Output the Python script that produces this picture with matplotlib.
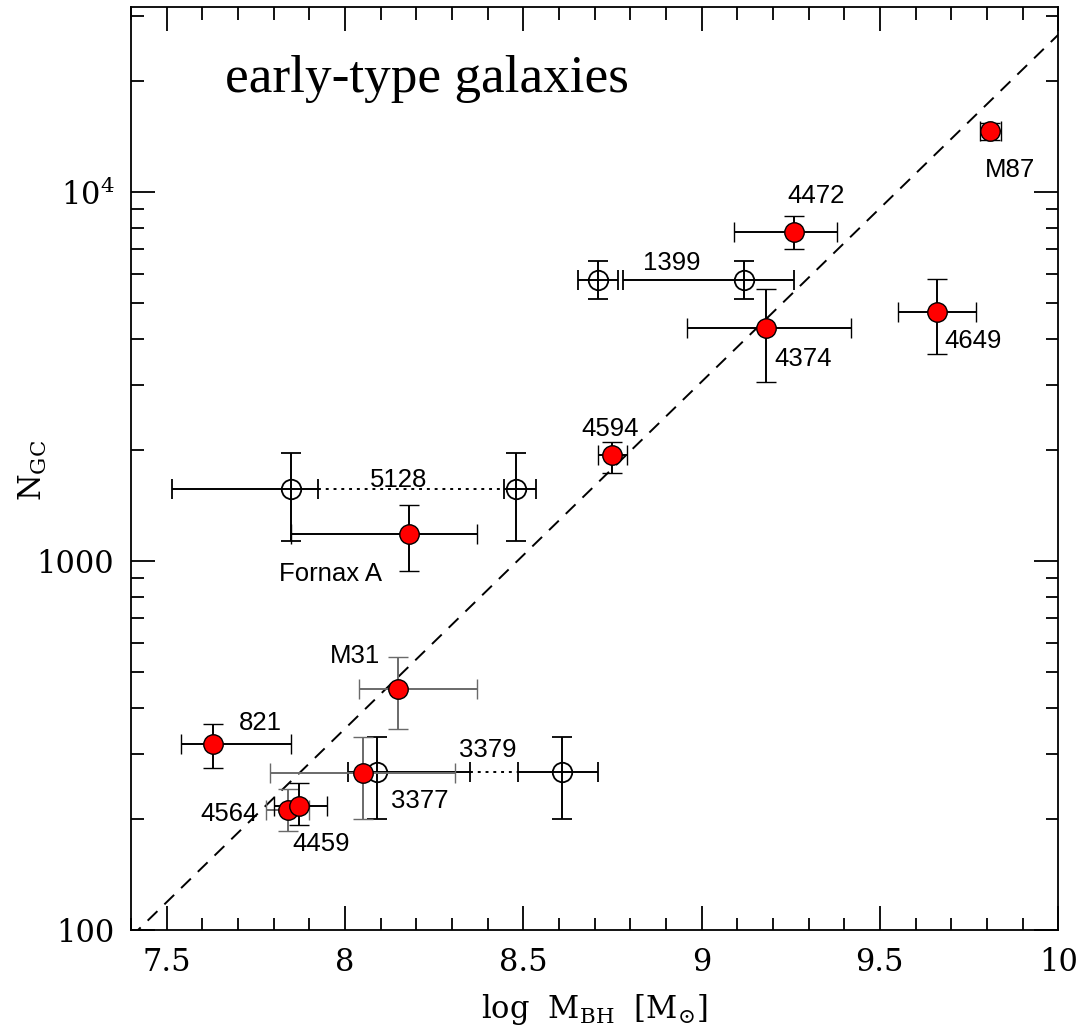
import numpy as np
import matplotlib
matplotlib.use("Agg")
import matplotlib.pyplot as plt
from matplotlib.ticker import FixedLocator, FixedFormatter, MultipleLocator

plt.rcParams['mathtext.fontset'] = 'dejavuserif'
plt.rcParams['font.family'] = 'DejaVu Serif'

# ---- filled (red) galaxies ----
names = ['M87', '4472', '4374', '4649', '4594', 'Fornax A', 'M31', '821', '3377', '4564', '4459']
logM = [9.81, 9.26, 9.18, 9.66, 8.75, 8.18, 8.15, 7.63, 8.05, 7.84, 7.87]
logM_lo = [0.03, 0.17, 0.22, 0.11, 0.04, 0.33, 0.11, 0.09, 0.26, 0.06, 0.07]
logM_hi = [0.03, 0.12, 0.24, 0.11, 0.04, 0.19, 0.22, 0.22, 0.26, 0.06, 0.08]
N = [14600, 7800, 4270, 4720, 1930, 1180, 450, 320, 267, 212, 217]
N_lo = [13800, 7000, 3060, 3630, 1730, 940, 350, 275, 200, 185, 193]
N_hi = [15400, 8600, 5450, 5800, 2100, 1420, 550, 362, 334, 241, 250]
gray_err = ['M31', '3377', '4564']

# ---- open circles (alternative measurements) ----
names_open = ['1399', '1399', '5128', '5128', '3377', '3379']
logM_open = [8.71, 9.12, 7.85, 8.48, 8.09, 8.61]
logM_open_lo = [0.056, 0.34, 0.335, 0.035, 0.08, 0.125]
logM_open_hi = [0.056, 0.14, 0.075, 0.055, 0.26, 0.10]
N_open = [5770, 5770, 1570, 1570, 268, 268]
N_open_lo = [5120, 5120, 1133, 1133, 200, 200]
N_open_hi = [6490, 6490, 1955, 1955, 334, 334]
dotted_pairs = [(2, 3), (4, 5)]

# ---- fit line ----
fit_slope = 0.94
fit_x0 = 7.42
fit_logN0 = 2.0

# ---- labels (text, x, y) ----
labels = [('M87', 9.865, 11470), ('4472', 9.32, 9750), ('1399', 8.917, 6410),
          ('4374', 9.285, 3515), ('4649', 9.762, 3935), ('4594', 8.743, 2270),
          ('5128', 8.15, 1660), ('Fornax A', 7.961, 922), ('M31', 8.028, 552),
          ('821', 7.762, 363), ('3379', 8.401, 308), ('3377', 8.211, 224),
          ('4564', 7.675, 206), ('4459', 7.933, 171)]

fig = plt.figure(figsize=(10.82, 10.31), dpi=100)
ax = fig.add_axes([0.121, 0.098, 0.857, 0.895])

ax.set_yscale('log')
ax.set_xlim(7.4, 10)
ax.set_ylim(100, 10**4.5)

# fit line
xl = np.array([7.4, 10.0])
ax.plot(xl, 10**(fit_logN0 + fit_slope * (xl - fit_x0)), ls=(0, (7, 5)), color='black', lw=1.4, zorder=1)

cap = 7
# open circles
for i in range(len(logM_open)):
    x, y = logM_open[i], N_open[i]
    ax.errorbar([x], [y], xerr=[[logM_open_lo[i]], [logM_open_hi[i]]],
                yerr=[[y - N_open_lo[i]], [N_open_hi[i] - y]],
                fmt='o', mfc='none', mec='black', ms=14, mew=1.3,
                ecolor='black', elinewidth=1.4, capsize=cap, capthick=1.4, zorder=2)
for a, b in dotted_pairs:
    x1 = logM_open[a] + logM_open_hi[a]
    x2 = logM_open[b] - logM_open_lo[b]
    ax.plot([x1, x2], [N_open[a], N_open[b]], ls=(0, (1.5, 2.5)), color='black', lw=1.4, zorder=2)

# filled
for i in range(len(logM)):
    x, y = logM[i], N[i]
    ec = '#6a6a6a' if names[i] in gray_err else 'black'
    ax.errorbar([x], [y], xerr=[[logM_lo[i]], [logM_hi[i]]],
                yerr=[[y - N_lo[i]], [N_hi[i] - y]],
                fmt='o', mfc='red', mec='black', ms=14, mew=1.0,
                ecolor=ec, elinewidth=1.4, capsize=cap, capthick=1.4, zorder=3)

for t, x, y in labels:
    ax.text(x, y, t, ha='center', va='center', fontsize=18.5, family='Liberation Sans', zorder=4)

ax.text(0.101, 0.908, 'early-type galaxies', transform=ax.transAxes, ha='left', va='baseline',
        fontsize=38.3, family='Liberation Serif')

# ticks
ax.xaxis.set_major_locator(FixedLocator([7.5, 8, 8.5, 9, 9.5, 10]))
ax.xaxis.set_major_formatter(FixedFormatter(['7.5', '8', '8.5', '9', '9.5', '10']))
ax.xaxis.set_minor_locator(MultipleLocator(0.1))
ax.yaxis.set_major_locator(FixedLocator([100, 1000, 10000]))
ax.yaxis.set_major_formatter(FixedFormatter(['100', '1000', '$10^4$']))
minors = [m * 10**d for d in (2, 3, 4) for m in range(2, 10) if m * 10**d < 10**4.5]
ax.yaxis.set_minor_locator(FixedLocator(minors))
ax.yaxis.set_minor_formatter(FixedFormatter([''] * len(minors)))

ax.tick_params(which='both', direction='in', top=True, right=True, width=1.3, labelsize=22)
ax.tick_params(which='major', length=17)
ax.tick_params(which='minor', length=9)
ax.tick_params(axis='x', which='major', pad=12)
ax.tick_params(axis='y', which='major', pad=12)
for s in ax.spines.values():
    s.set_linewidth(1.3)

ax.set_xlabel(r'$\mathrm{log}\ \ \mathrm{M_{BH}}\ \ [\mathrm{M}_{\odot}]$', fontsize=22, labelpad=10)
ax.set_ylabel(r'$\mathrm{N_{GC}}$', fontsize=22, va='center')
ax.yaxis.set_label_coords(-0.106, 0.498)

fig.savefig('out.png', dpi=100)
